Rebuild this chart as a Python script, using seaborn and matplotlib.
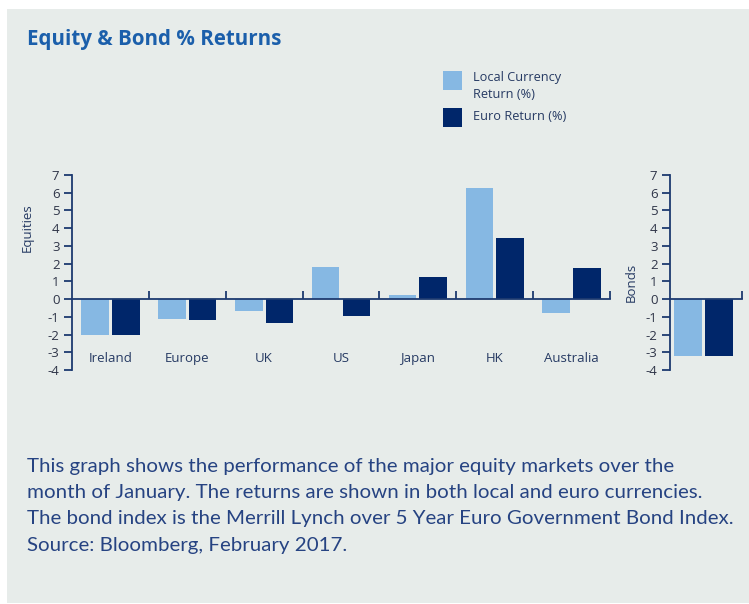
import matplotlib
matplotlib.use("Agg")
import matplotlib.pyplot as plt
from matplotlib.patches import Rectangle
import seaborn as sns
import pandas as pd

markets = ["Ireland", "Europe", "UK", "US", "Japan", "HK", "Australia"]
local_ret = [-2.0, -1.15, -0.68, 1.8, 0.22, 6.25, -0.8]
euro_ret = [-2.0, -1.18, -1.33, -0.95, 1.23, 3.45, 1.78]
bond_local = [-3.22]
bond_euro = [-3.22]
series_names = ["Local Currency\nReturn (%)", "Euro Return (%)"]
yticks = list(range(-4, 8))
caption_lines = [
    "This graph shows the performance of the major equity markets over the",
    "month of January. The returns are shown in both local and euro currencies.",
    "The bond index is the Merrill Lynch over 5 Year Euro Government Bond Index.",
    "Source: Bloomberg, February 2017.",
]

LIGHT = "#86b8e3"
DARK = "#00266a"
NAVY = "#1d3a70"
TXT = "#263a63"
PANEL = "#e7ecea"

sns.set_theme(style="white")
plt.rcParams["font.family"] = ["Open Sans", "DejaVu Sans"]

W, H = 749, 604
fig = plt.figure(figsize=(W / 100, H / 100), dpi=100, facecolor="white")
fig.patches.append(Rectangle((7 / W, 1 / H), 1 - 7 / W, (H - 10) / H,
                             transform=fig.transFigure, facecolor=PANEL,
                             edgecolor="none", zorder=-10))

def px_axes(x0, x1, ytop, ybot):
    return fig.add_axes([x0 / W, (H - ybot) / H, (x1 - x0) / W, (ybot - ytop) / H])

eq = pd.DataFrame({
    "market": markets * 2,
    "series": [series_names[0]] * len(markets) + [series_names[1]] * len(markets),
    "value": local_ret + euro_ret,
})
bd = pd.DataFrame({
    "market": ["Bonds", "Bonds"],
    "series": series_names,
    "value": bond_local + bond_euro,
})

ax = px_axes(72, 610, 175, 370)
ax2 = px_axes(670, 742, 175, 370)

for a, df in ((ax, eq), (ax2, bd)):
    a.set_facecolor("none")
    sns.barplot(data=df, x="market", y="value", hue="series",
                hue_order=series_names, palette=[LIGHT, DARK],
                width=0.8, gap=0.1, saturation=1, legend=False, ax=a,
                linewidth=0, edgecolor="none")
    a.set_ylim(-4, 7)
    a.set_yticks(yticks)
    a.set_yticklabels([str(t) for t in yticks])
    a.spines["top"].set_visible(False)
    a.spines["right"].set_visible(False)
    a.spines["bottom"].set_position(("data", 0))
    for s in ("left", "bottom"):
        a.spines[s].set_color(NAVY)
        a.spines[s].set_linewidth(1.3)
    a.tick_params(axis="y", direction="out", length=6, width=1.3, color=NAVY,
                  labelsize=9.5, labelcolor="#2f3548", pad=3, left=True)
    a.set_xlabel("")
    a.set_ylabel("")

n = len(markets)
ax.set_xlim(-0.5, n - 0.5)
ax.set_xticks([i + 0.5 for i in range(n)])
ax.set_xticklabels([])
ax.tick_params(axis="x", direction="in", length=6, width=1.3, color=NAVY, bottom=True)
for i, m in enumerate(markets):
    ax.text(i, -3.35, m, ha="center", va="center", fontsize=9.5, color=TXT)

ax2.set_xlim(-0.43, 0.5)
ax2.set_xticks([0.5])
ax2.set_xticklabels([])
ax2.tick_params(axis="x", direction="in", length=6, width=1.3, color=NAVY, bottom=True)

ax.set_ylabel("Equities", fontsize=9.5, color=TXT)
ax.yaxis.set_label_coords(-0.071, 0.73)
ax2.set_ylabel("Bonds", fontsize=9.5, color=TXT)
ax2.yaxis.set_label_coords(-0.45, 0.45)

# legend
for (ytop, col, lab, yc) in ((71, LIGHT, series_names[0], 86), (108, DARK, series_names[1], 117)):
    fig.patches.append(Rectangle((443 / W, (H - ytop - 19) / H), 19 / W, 19 / H,
                                 transform=fig.transFigure, facecolor=col,
                                 edgecolor="none", zorder=2))
    fig.text(473 / W, (H - yc) / H, lab, ha="left", va="center", fontsize=9.2,
             color=TXT, linespacing=1.45)

fig.text(27 / W, (H - 39) / H, "Equity & Bond % Returns", ha="left", va="center",
         fontsize=14.8, fontweight="bold", color="#1b5fab")

for i, line in enumerate(caption_lines):
    fig.text(27 / W, (H - (471.7 + 26.3 * i)) / H, line, ha="left", va="baseline",
             fontsize=14.75, color="#264382", family=["Lato", "DejaVu Sans"])

fig.savefig("out.png", dpi=100, facecolor="white")
